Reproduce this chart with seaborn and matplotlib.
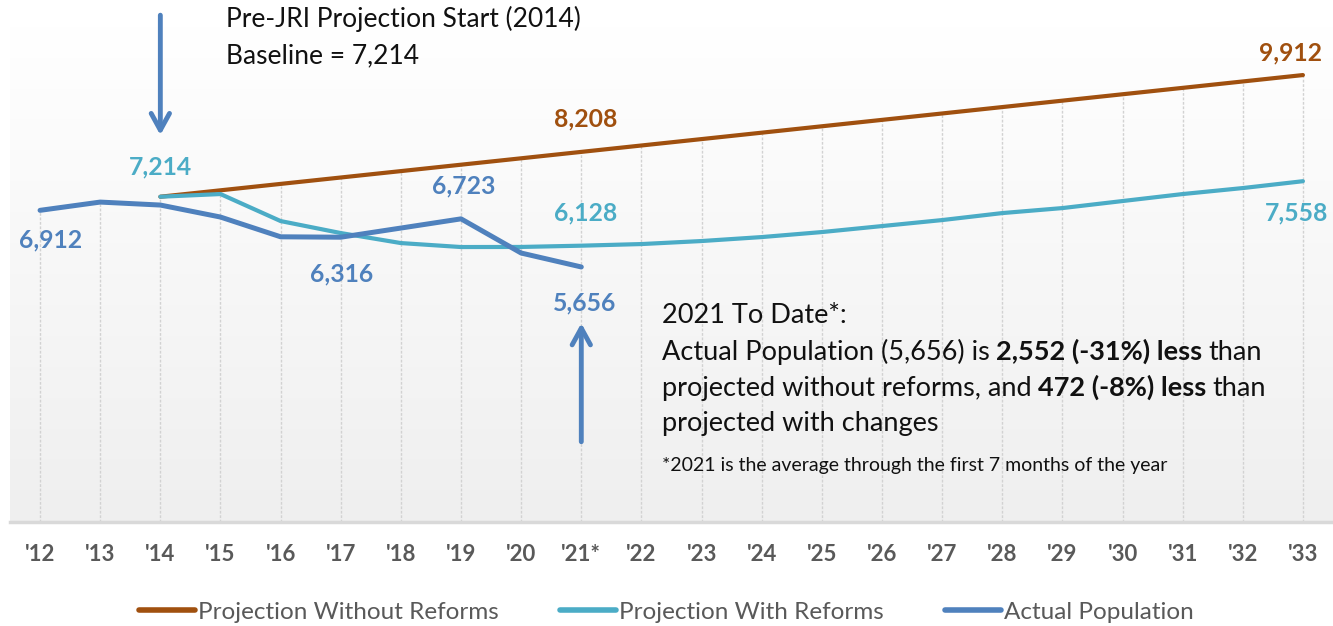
import matplotlib
matplotlib.use('Agg')
import matplotlib.pyplot as plt
import numpy as np
import pandas as pd
import seaborn as sns
from matplotlib.colors import LinearSegmentedColormap
from matplotlib.lines import Line2D
from matplotlib.offsetbox import TextArea, HPacker, VPacker, AnchoredOffsetbox

nan = np.nan

# 年份标签
years = ["'12", "'13", "'14", "'15", "'16", "'17", "'18", "'19", "'20", "'21*", "'22",
         "'23", "'24", "'25", "'26", "'27", "'28", "'29", "'30", "'31", "'32", "'33"]

# 实际人数（到2021为止）
actual = [6912, 7095, 7029, 6763, 6325, 6316, 6519, 6723, 5965, 5656,
          nan, nan, nan, nan, nan, nan, nan, nan, nan, nan, nan, nan]

# 有改革的预测
with_reforms = [nan, nan, 7214, 7273, 6674, 6408, 6186, 6098, 6100, 6128, 6164,
                6231, 6319, 6430, 6563, 6696, 6851, 6962, 7118, 7273, 7406, 7558]

# 无改革的预测
without_reforms = [nan, nan, 7214, 7356, 7498, 7640, 7782, 7924, 8066, 8208, 8350,
                   8492, 8634, 8776, 8918, 9060, 9202, 9344, 9486, 9628, 9770, 9912]

series_names = ['Projection Without Reforms', 'Projection With Reforms', 'Actual Population']
colors = ['#A0500F', '#4BACC6', '#4F81BD']

df = pd.DataFrame({'idx': np.arange(len(years)), 'year': years,
                   series_names[0]: without_reforms,
                   series_names[1]: with_reforms,
                   series_names[2]: actual})

sns.set_theme(style='white')
plt.rcParams['font.family'] = ['Lato', 'DejaVu Sans']

fig = plt.figure(figsize=(13.33, 6.26), dpi=100)
ax = fig.add_axes([10 / 1333, 104 / 626, 1323 / 1333, 496 / 626])

# 背景渐变
grad = np.linspace(0, 1, 256)[:, None]
cmap = LinearSegmentedColormap.from_list('bg', ['#efefef', '#ffffff'])
ax.imshow(grad, cmap=cmap, aspect='auto', extent=[-0.5, len(years) - 0.5, 0, 11000],
          origin='lower', zorder=0)

# 垂线（从最高点到底部）
top = df[series_names].max(axis=1)
ax.vlines(df['idx'], 0, top, colors='#d2d2d2', linewidth=1.0, linestyles=(0, (2, 1.2)), zorder=1)

widths = [3.0, 3.0, 3.6]
for name, c, w in zip(series_names, colors, widths):
    sub = df[['idx', name]].dropna()
    sns.lineplot(x=sub['idx'], y=sub[name], color=c, linewidth=w, ax=ax, zorder=3,
                 solid_capstyle='round', solid_joinstyle='round', legend=False)

ax.set_xlim(-0.5, len(years) - 0.5)
ax.set_ylim(0, 11000)
ax.set_xticks(df['idx'])
ax.set_xticklabels(years, fontsize=16, fontweight='bold', color='#595959')
ax.tick_params(axis='x', length=0, pad=16)
ax.set_yticks([])
ax.set_xlabel('')
ax.set_ylabel('')
for s in ['top', 'right', 'left']:
    ax.spines[s].set_visible(False)
ax.spines['bottom'].set_color('#d9d9d9')
ax.spines['bottom'].set_linewidth(2.5)
ax.spines['bottom'].set_zorder(2)

# 数据标签：(系列, 索引, 偏移像素)
labels = [(2, 0, (10, -30)), (1, 2, (0, 30)), (2, 5, (1, -37)), (2, 7, (3, 33)),
          (2, 9, (3, -36)), (1, 9, (4, 33)), (0, 9, (4, 33)), (0, 21, (-12, 22)),
          (1, 21, (-6, -32))]
for si, i, off in labels:
    v = df[series_names[si]].iloc[i]
    ax.annotate(f'{v:,.0f}', (i, v), xytext=off, textcoords='offset pixels',
                ha='center', va='center', fontsize=17.8, fontweight='bold',
                color=colors[si], annotation_clip=False, zorder=5)

# 箭头
arrow_style = '->,head_length=1.0,head_width=0.55'
ax.annotate('', xy=(2, 8580), xytext=(2, 11240), annotation_clip=False,
            arrowprops=dict(arrowstyle=arrow_style, lw=3.5, color='#4F81BD',
                            shrinkA=0, shrinkB=0))
ax.annotate('', xy=(9, 4410), xytext=(9, 1780), annotation_clip=False,
            arrowprops=dict(arrowstyle=arrow_style, lw=3.5, color='#4F81BD',
                            shrinkA=0, shrinkB=0))

fig.text(226 / 1333, 1 - 19 / 626, 'Pre-JRI Projection Start (2014)', fontsize=19,
         color='#111111', va='center', ha='left')
fig.text(226 / 1333, 1 - 56 / 626, 'Baseline = 7,214', fontsize=19,
         color='#111111', va='center', ha='left')


def line(parts, size=19.5):
    boxes = [TextArea(t, textprops=dict(fontsize=size, color='#111111',
                                        fontweight='bold' if b else 'normal'))
             for t, b in parts]
    return HPacker(children=boxes, align='baseline', pad=0, sep=4.5)


info = VPacker(children=[
    line([('2021 To Date*:', False)]),
    line([('Actual Population (5,656) is', False), ('2,552 (-31%) less', True), ('than', False)]),
    line([('projected without reforms, and', False), ('472 (-8%) less', True), ('than', False)]),
    line([('projected with changes', False)]),
], align='left', pad=0, sep=7.5)
fig.add_artist(AnchoredOffsetbox(loc='upper left', child=info, frameon=False, pad=0, borderpad=0,
                                 bbox_to_anchor=(662 / 1333, 1 - 303 / 626),
                                 bbox_transform=fig.transFigure))
fig.text(662 / 1333, 1 - 466 / 626, '*2021 is the average through the first 7 months of the year',
         fontsize=14, color='#111111', va='center', ha='left')

handles = [Line2D([], [], color=c, lw=4, solid_capstyle='round') for c in colors]
fig.legend(handles, series_names, loc='center', bbox_to_anchor=(0.5, 14 / 626), ncol=3,
           frameon=False, fontsize=17.5, labelcolor='#595959', handlelength=2.3,
           handletextpad=0.15, columnspacing=2.5)

fig.savefig('out.png', dpi=100)
